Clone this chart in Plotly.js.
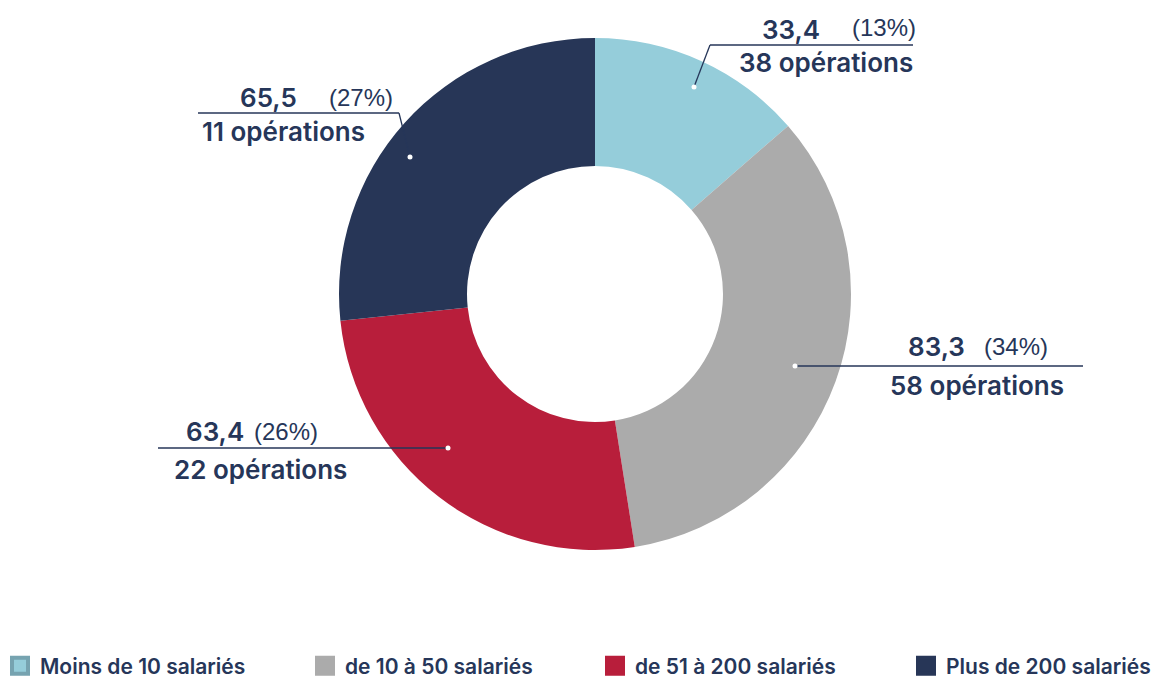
<!DOCTYPE html>
<html><head><meta charset="utf-8">
<script src="https://cdn.plot.ly/plotly-3.0.1.min.js"></script>
<style>html,body{margin:0;padding:0;background:#fff}#chart{width:1164px;height:679px}</style>
</head><body><div id="chart"></div>
<script>
const categories = ['Moins de 10 salariés', 'de 10 à 50 salariés', 'de 51 à 200 salariés', 'Plus de 200 salariés'];
const values = [33.4, 83.3, 63.4, 65.5];
const pctLabels = ['(13%)', '(34%)', '(26%)', '(27%)'];
const operations = [38, 58, 22, 11];

const colors = ['#95CDDA', '#ABABAB', '#B81E3B', '#273657'];
const legendBorder = ['#76A3B0', '#ABABAB', '#B81E3B', '#273657'];
const W = 1164, H = 679;
const px = x => x / W;
const py = y => 1 - y / H;
const TXT = '#263659';
const FONT_MAIN = 'Inter, "DejaVu Sans", sans-serif';
const FONT_PCT = '"Liberation Sans", Arial, sans-serif';

// leader-line / label placement (pixels)
const labelLayout = [
  {dot: [694, 87], elbow: [710, 45], end: [913, 45], val: [791, 30], pct: [884, 28], ops: [826, 62]},
  {dot: [795, 366], elbow: [795, 366], end: [1083, 366], val: [936, 346], pct: [1016, 346], ops: [977, 385]},
  {dot: [448, 448], elbow: [448, 448], end: [158, 448], val: [215, 431], pct: [286, 431], ops: [260, 469]},
  {dot: [410, 157], elbow: [399, 113], end: [198, 113], val: [268, 98], pct: [361, 98], ops: [283, 131]}
];
const legendX = [0, 305, 595, 906];

const traces = [{
  type: 'pie',
  labels: categories,
  values: values,
  marker: {colors: colors, line: {width: 0}},
  hole: 0.5,
  sort: false,
  direction: 'clockwise',
  rotation: 0,
  textinfo: 'none',
  hoverinfo: 'label+value+percent',
  showlegend: false,
  domain: {x: [px(339), px(851)], y: [py(550), py(38)]}
}];
categories.forEach((c, i) => {
  traces.push({
    type: 'scatter', mode: 'markers', x: [null], y: [null], name: c,
    marker: {symbol: 'square', size: 16, color: colors[i], line: {color: legendBorder[i], width: 4}},
    showlegend: true, legend: i === 0 ? 'legend' : 'legend' + (i + 1), hoverinfo: 'skip'
  });
});

const shapes = [], annotations = [];
labelLayout.forEach((L, i) => {
  const line = {color: TXT, width: 1.3};
  if (L.elbow[0] !== L.dot[0] || L.elbow[1] !== L.dot[1]) {
    shapes.push({type: 'line', xref: 'paper', yref: 'paper', x0: px(L.dot[0]), y0: py(L.dot[1]), x1: px(L.elbow[0]), y1: py(L.elbow[1]), line: line});
  }
  shapes.push({type: 'line', xref: 'paper', yref: 'paper', x0: px(L.elbow[0]), y0: py(L.elbow[1]), x1: px(L.end[0]), y1: py(L.end[1]), line: line});
  shapes.push({type: 'circle', xref: 'paper', yref: 'paper', x0: px(L.dot[0] - 2.5), x1: px(L.dot[0] + 2.5), y0: py(L.dot[1] + 2.5), y1: py(L.dot[1] - 2.5), fillcolor: '#ffffff', line: {width: 0}});
  annotations.push({xref: 'paper', yref: 'paper', x: px(L.val[0]), y: py(L.val[1]), xanchor: 'center', yanchor: 'middle', showarrow: false,
    text: String(values[i]).replace('.', ','), font: {family: FONT_MAIN, size: 26, color: TXT, weight: 600}});
  annotations.push({xref: 'paper', yref: 'paper', x: px(L.pct[0]), y: py(L.pct[1]), xanchor: 'center', yanchor: 'middle', showarrow: false,
    text: pctLabels[i], font: {family: FONT_PCT, size: 24, color: TXT}});
  annotations.push({xref: 'paper', yref: 'paper', x: px(L.ops[0]), y: py(L.ops[1]), xanchor: 'center', yanchor: 'middle', showarrow: false,
    text: operations[i] + ' opérations', font: {family: FONT_MAIN, size: 26, color: TXT, weight: 600}});
});

const layout = {
  width: W, height: H,
  margin: {l: 0, r: 0, t: 0, b: 0, autoexpand: false},
  paper_bgcolor: '#ffffff', plot_bgcolor: '#ffffff',
  xaxis: {visible: false}, yaxis: {visible: false},
  shapes: shapes, annotations: annotations
};
legendX.forEach((x, i) => {
  const key = i === 0 ? 'legend' : 'legend' + (i + 1);
  layout[key] = {x: px(x), xanchor: 'left', y: py(666), yanchor: 'middle', orientation: 'h',
    bgcolor: 'rgba(0,0,0,0)', borderwidth: 0,
    font: {family: FONT_MAIN, size: 21, color: TXT, weight: 600}};
});

Plotly.newPlot('chart', traces, layout, {displayModeBar: false, staticPlot: true});
</script>
</body></html>
